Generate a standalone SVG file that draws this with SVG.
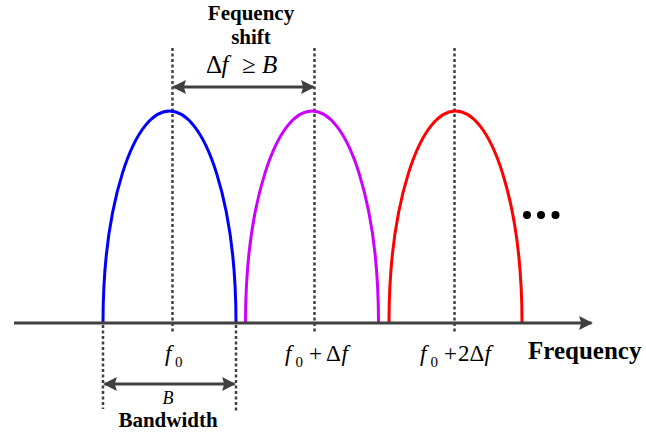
<svg xmlns="http://www.w3.org/2000/svg" width="646" height="432" viewBox="0 0 646 432">
<style>
.dash{stroke:#404040;stroke-width:2.5;stroke-dasharray:3,2.5;fill:none}
.lobe{fill:none;stroke-width:3}
.ax{stroke:#404040;stroke-width:3;fill:none}
.it{font-style:italic}
.sub{font-size:15px}
</style>
<defs>
<marker id="ah" viewBox="0 0 10 10" refX="9" refY="5" markerWidth="4.6" markerHeight="4.6" orient="auto-start-reverse" markerUnits="strokeWidth">
<path d="M0,0 L10,5 L0,10 L1.5,5 z" fill="#404040"/>
</marker>
</defs>
<rect width="646" height="432" fill="#fff"/>
<g id="guides">
<line class="dash" x1="172.5" y1="48" x2="172.5" y2="332"/>
<line class="dash" x1="314.5" y1="48" x2="314.5" y2="332"/>
<line class="dash" x1="454.5" y1="48" x2="454.5" y2="332"/>
<line class="dash" x1="103" y1="325" x2="103" y2="409"/>
<line class="dash" x1="236" y1="325" x2="236" y2="413"/>
</g>
<g id="lobe1"><path class="lobe" stroke="#0000ff" d="M103,323 A66.5,212 0 0 1 236,323"/></g>
<g id="lobe2"><path class="lobe" stroke="#cc00ff" d="M245.5,323 A66.5,212 0 0 1 378.5,323"/></g>
<g id="lobe3"><path class="lobe" stroke="#ff0000" d="M389,323 A66.5,212 0 0 1 522,323"/></g>
<g id="connectors">
<line class="ax" x1="14" y1="323" x2="591.5" y2="323" marker-end="url(#ah)"/>
<line class="ax" x1="173.5" y1="87" x2="313.5" y2="87" marker-start="url(#ah)" marker-end="url(#ah)"/>
<line class="ax" x1="104.5" y1="384" x2="234.5" y2="384" marker-start="url(#ah)" marker-end="url(#ah)"/>
</g>
<g id="dots" fill="#000">
<circle cx="527" cy="215" r="4"/>
<circle cx="541" cy="215" r="4"/>
<circle cx="555.5" cy="215" r="4"/>
</g>
<g id="labels" font-family="'Liberation Serif', 'Times New Roman', serif" fill="#000">
<text x="251" y="20" font-size="21" font-weight="bold" text-anchor="middle">Fequency</text>
<text x="251" y="43.5" font-size="21" font-weight="bold" text-anchor="middle">shift</text>
<text y="73" font-size="25"><tspan x="206">Δ</tspan><tspan x="221.5" class="it">f</tspan><tspan x="242">≥</tspan><tspan x="262" class="it">B</tspan></text>
<text font-size="23"><tspan x="165" y="361" class="it">f</tspan><tspan x="175" y="367" class="sub">0</tspan></text>
<text font-size="23"><tspan x="285" y="361" class="it">f</tspan><tspan x="295.5" y="367" class="sub">0</tspan><tspan x="309" y="361">+</tspan><tspan x="326" y="361">Δ</tspan><tspan x="341.5" y="361" class="it">f</tspan></text>
<text font-size="23"><tspan x="420" y="361" class="it">f</tspan><tspan x="430.5" y="367" class="sub">0</tspan><tspan x="444" y="361">+</tspan><tspan x="458" y="361">2Δ</tspan><tspan x="484.5" y="361" class="it">f</tspan></text>
<text x="528" y="359" font-size="25" font-weight="bold">Frequency</text>
<text x="168" y="404" font-size="18" class="it" text-anchor="middle">B</text>
<text x="168" y="427" font-size="21" font-weight="bold" text-anchor="middle">Bandwidth</text>
</g>
</svg>
